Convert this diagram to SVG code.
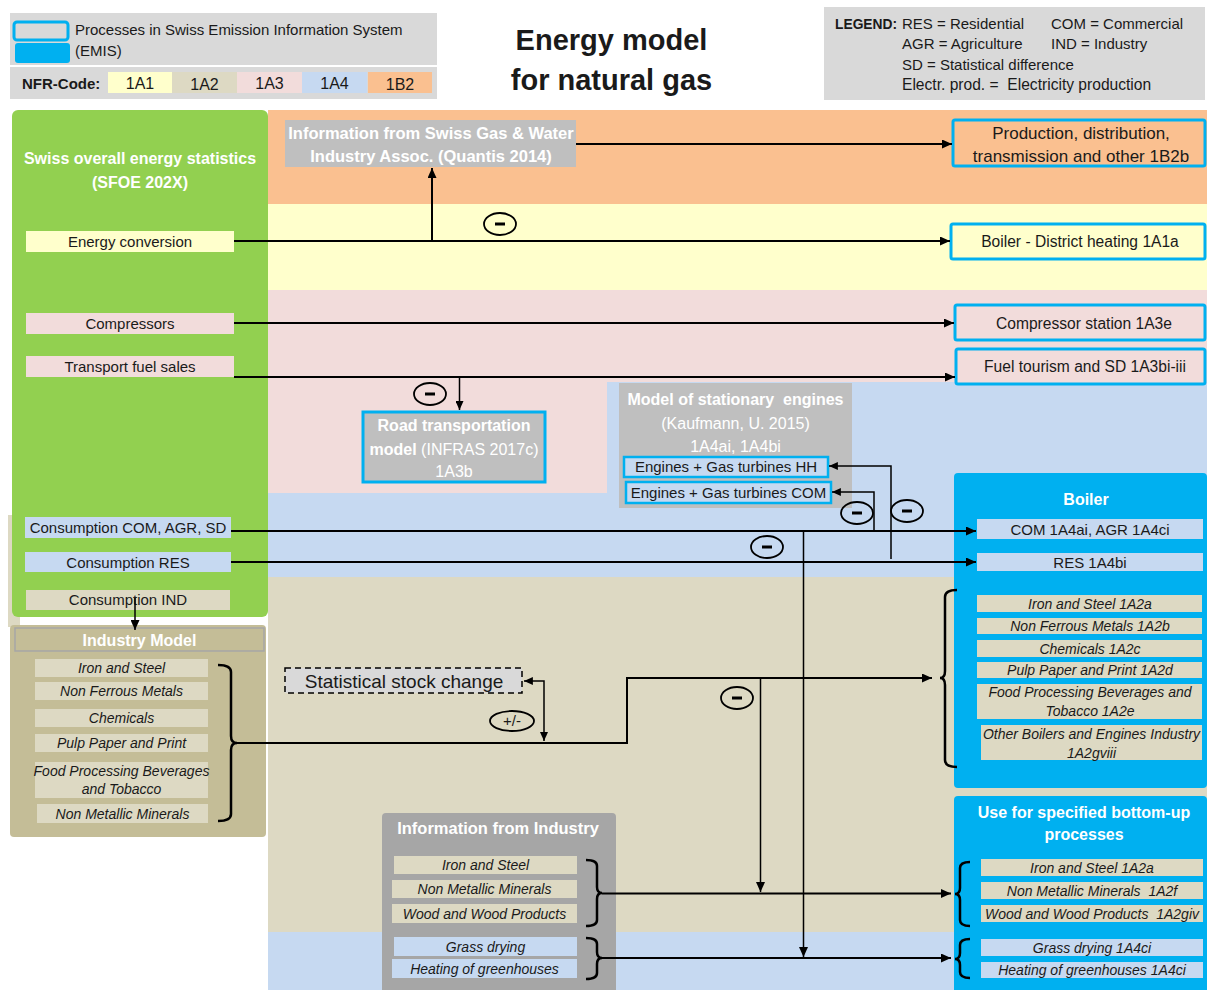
<svg xmlns="http://www.w3.org/2000/svg" width="1207" height="990" viewBox="0 0 1207 990">
<defs>
<style>
.t{font-family:'Liberation Sans',Arial,sans-serif;fill:#1a1a1a;font-size:15px}
.c{text-anchor:middle}
.b{font-weight:bold}
.i{font-style:italic;font-size:14px}
.w{fill:#fff}
.h16{font-size:16px}
.r{font-size:15.6px}
.lg{font-size:15px}
.ln{stroke:#000;stroke-width:2;fill:none}
.thin{stroke-width:1.5}
.br{stroke:#000;stroke-width:2.5;fill:none}
.emis{stroke:#00B0F0;stroke-width:3}
.mc{fill:none;stroke:#000;stroke-width:1.8}
</style>
<marker id="ah" viewBox="0 0 10 9" refX="10" refY="4.5" markerWidth="10" markerHeight="9" markerUnits="userSpaceOnUse" orient="auto-start-reverse">
<path d="M0,0 L10,4.5 L0,9 z" fill="#000"/>
</marker>
<marker id="ahs" viewBox="0 0 10 9" refX="10" refY="4.5" markerWidth="9" markerHeight="8" markerUnits="userSpaceOnUse" orient="auto-start-reverse">
<path d="M0,0 L10,4.5 L0,9 z" fill="#000"/>
</marker>
<g id="minus">
<ellipse cx="0" cy="0" rx="16" ry="11" class="mc"/>
<rect x="-5" y="-1.5" width="10" height="3" fill="#000"/>
</g>
</defs>

<rect width="1207" height="990" fill="#fff"/>

<!-- background NFR bands -->
<g id="bands">
<rect x="268" y="110" width="939" height="94" fill="#FAC090"/>
<rect x="268" y="204" width="939" height="86" fill="#FFFFCC"/>
<rect x="268" y="290" width="939" height="92" fill="#F2DCDB"/>
<rect x="268" y="382" width="339" height="111" fill="#F2DCDB"/>
<rect x="607" y="382" width="600" height="111" fill="#C6D9F1"/>
<rect x="268" y="493" width="939" height="84" fill="#C6D9F1"/>
<rect x="268" y="577" width="939" height="355" fill="#DDD9C3"/>
<rect x="268" y="932" width="939" height="58" fill="#C6D9F1"/>
<rect x="8" y="515" width="12" height="112" fill="#DDD9C3"/>
</g>

<!-- legends and title -->
<g id="legend-emis">
<rect x="10" y="13" width="427" height="52" fill="#D9D9D9"/>
<rect x="14" y="22" width="54" height="18" rx="3" fill="#D9D9D9" class="emis"/>
<rect x="15" y="43" width="55" height="20" rx="3" fill="#00B0F0"/>
<text class="t" x="75" y="35">Processes in Swiss Emission Information System</text>
<text class="t" x="75" y="56">(EMIS)</text>
</g>
<g id="legend-nfr">
<rect x="10" y="67" width="427" height="32" fill="#D9D9D9"/>
<rect x="108" y="72" width="64" height="21" fill="#FFFFCC"/>
<rect x="172" y="72" width="65" height="21" fill="#DDD9C3"/>
<rect x="237" y="72" width="65" height="21" fill="#F2DCDB"/>
<rect x="302" y="72" width="65" height="21" fill="#C6D9F1"/>
<rect x="368" y="72" width="64" height="21" fill="#FAC090"/>
<text class="t b" x="22" y="89">NFR-Code:</text>
<text class="t c h16" x="140" y="89">1A1</text>
<text class="t c h16" x="204.5" y="90">1A2</text>
<text class="t c h16" x="269.5" y="89">1A3</text>
<text class="t c h16" x="334.5" y="89">1A4</text>
<text class="t c h16" x="400" y="90">1B2</text>
</g>
<g id="title">
<text class="t c b" style="font-size:29px" x="611.5" y="50">Energy model</text>
<text class="t c b" style="font-size:29px" x="611.5" y="90">for natural gas</text>
</g>
<g id="legend-abbr">
<rect x="824" y="7" width="381" height="93" fill="#D9D9D9"/>
<text class="t b" style="font-size:13.8px" x="835" y="29">LEGEND:</text>
<text class="t lg" x="902" y="29">RES = Residential</text>
<text class="t lg" x="1051" y="29">COM = Commercial</text>
<text class="t lg" x="902" y="49">AGR = Agriculture</text>
<text class="t lg" x="1051" y="49">IND = Industry</text>
<text class="t lg" x="902" y="70">SD = Statistical difference</text>
<text class="t" style="font-size:15.6px" x="902" y="90">Electr. prod. =&#160; Electricity production</text>
</g>

<!-- Swiss overall energy statistics -->
<g id="sfoe">
<rect x="12" y="110" width="256" height="507" rx="6" fill="#92D050"/>
<text class="t c b w h16" x="140" y="164">Swiss overall energy statistics</text>
<text class="t c b w h16" x="140" y="188">(SFOE 202X)</text>
</g>
<g id="energy-conversion">
<rect x="26" y="231" width="208" height="21" fill="#FFFFCC"/>
<text class="t c" x="130" y="247">Energy conversion</text>
</g>
<g id="compressors">
<rect x="26" y="313" width="208" height="21" fill="#F2DCDB"/>
<text class="t c" x="130" y="329">Compressors</text>
</g>
<g id="transport-fuel">
<rect x="26" y="356" width="208" height="21" fill="#F2DCDB"/>
<text class="t c" x="130" y="372">Transport fuel sales</text>
</g>
<g id="cons-com">
<rect x="25" y="517" width="206" height="21" fill="#C6D9F1"/>
<text class="t c" x="128" y="533">Consumption COM, AGR, SD</text>
</g>
<g id="cons-res">
<rect x="25" y="552" width="206" height="20" fill="#C6D9F1"/>
<text class="t c" x="128" y="567.5">Consumption RES</text>
</g>
<g id="cons-ind">
<rect x="26" y="590" width="204" height="20" fill="#DDD9C3"/>
<text class="t c" x="128" y="605">Consumption IND</text>
</g>

<!-- Industry model -->
<g id="industry-model">
<rect x="10" y="625" width="256" height="212" rx="4" fill="#C4BD97"/>
<rect x="15" y="628" width="249" height="23" fill="#C4BD97" stroke="#A6A6A6" stroke-width="1.5"/>
<text class="t c b w h16" x="139.5" y="645.5">Industry Model</text>
<rect x="35" y="659" width="173" height="18" fill="#DDD9C3"/>
<text class="t c i" x="121.5" y="673">Iron and Steel</text>
<rect x="35" y="682" width="173" height="18" fill="#DDD9C3"/>
<text class="t c i" x="121.5" y="696">Non Ferrous Metals</text>
<rect x="35" y="709" width="173" height="18" fill="#DDD9C3"/>
<text class="t c i" x="121.5" y="723">Chemicals</text>
<rect x="35" y="734" width="173" height="18" fill="#DDD9C3"/>
<text class="t c i" x="121.5" y="748">Pulp Paper and Print</text>
<rect x="35" y="762" width="173" height="36" fill="#DDD9C3"/>
<text class="t c i" x="121.5" y="776">Food Processing Beverages</text>
<text class="t c i" x="121.5" y="794">and Tobacco</text>
<rect x="37" y="804" width="171" height="19" fill="#DDD9C3"/>
<text class="t c i" x="122.5" y="818.5">Non Metallic Minerals</text>
</g>

<!-- Info Swiss Gas -->
<g id="info-gas">
<rect x="285" y="120" width="291" height="47" fill="#BFBFBF"/>
<text class="t c b w" style="font-size:16.5px" x="431" y="138.5">Information from Swiss Gas &amp; Water</text>
<text class="t c b w" style="font-size:16.5px" x="431" y="161.5">Industry Assoc. (Quantis 2014)</text>
</g>
<g id="production">
<rect x="953" y="120" width="252" height="46" rx="2" fill="#FAC090" class="emis"/>
<text class="t c" style="font-size:17px" x="1081" y="139">Production, distribution,</text>
<text class="t c" style="font-size:17px" x="1081" y="162">transmission and other 1B2b</text>
</g>
<g id="district-heating">
<rect x="951" y="224" width="254" height="35" rx="2" fill="#FFFFCC" class="emis"/>
<text class="t c r" x="1080" y="247">Boiler - District heating 1A1a</text>
</g>
<g id="compressor-station">
<rect x="955" y="305" width="250" height="35" rx="2" fill="#F2DCDB" class="emis"/>
<text class="t c r" x="1084" y="328.5">Compressor station 1A3e</text>
</g>
<g id="fuel-tourism">
<rect x="956" y="349" width="249" height="35" rx="2" fill="#F2DCDB" class="emis"/>
<text class="t c r" x="1085" y="371.5">Fuel tourism and SD 1A3bi-iii</text>
</g>

<!-- Road transportation -->
<g id="road-model">
<rect x="363" y="412" width="182" height="70" fill="#BFBFBF" class="emis"/>
<text class="t c b w h16" x="454" y="431">Road transportation</text>
<text class="t c w h16" x="454" y="455"><tspan font-weight="bold">model</tspan> (INFRAS 2017c)</text>
<text class="t c w h16" x="454" y="477">1A3b</text>
</g>

<!-- Stationary engines -->
<g id="stationary-engines">
<rect x="619" y="383" width="233" height="125" fill="#BFBFBF"/>
<text class="t c b w h16" x="735.5" y="405">Model of stationary&#160; engines</text>
<text class="t c w h16" x="735.5" y="429">(Kaufmann, U. 2015)</text>
<text class="t c w h16" x="735.5" y="452">1A4ai, 1A4bi</text>
</g>
<g id="engines-hh">
<rect x="624" y="457" width="204" height="20" fill="#C6D9F1" stroke="#00B0F0" stroke-width="2.5"/>
<text class="t c" x="726" y="472">Engines + Gas turbines HH</text>
</g>
<g id="engines-com">
<rect x="626" y="482" width="205" height="21" fill="#C6D9F1" stroke="#00B0F0" stroke-width="2.5"/>
<text class="t c" x="728.5" y="497.5">Engines + Gas turbines COM</text>
</g>

<!-- Boiler -->
<g id="boiler">
<rect x="954" y="473" width="253" height="315" rx="4" fill="#00B0F0"/>
<text class="t c b w h16" x="1086" y="505">Boiler</text>
<rect x="977" y="519" width="226" height="20" fill="#C6D9F1"/>
<text class="t c" x="1090" y="534.5">COM 1A4ai, AGR 1A4ci</text>
<rect x="977" y="553" width="226" height="18" fill="#C6D9F1"/>
<text class="t c" x="1090" y="567.5">RES 1A4bi</text>
<rect x="977" y="595" width="225" height="17" fill="#DDD9C3"/>
<text class="t c i" x="1090" y="608.5">Iron and Steel 1A2a</text>
<rect x="977" y="618" width="225" height="16" fill="#DDD9C3"/>
<text class="t c i" x="1090" y="631">Non Ferrous Metals 1A2b</text>
<rect x="977" y="640" width="225" height="17" fill="#DDD9C3"/>
<text class="t c i" x="1090" y="653.5">Chemicals 1A2c</text>
<rect x="977" y="662" width="225" height="16" fill="#DDD9C3"/>
<text class="t c i" x="1090" y="675">Pulp Paper and Print 1A2d</text>
<rect x="977" y="684" width="225" height="35" fill="#DDD9C3"/>
<text class="t c i" x="1090" y="697">Food Processing Beverages and</text>
<text class="t c i" x="1090" y="716">Tobacco 1A2e</text>
<rect x="981" y="725" width="221" height="35" fill="#DDD9C3"/>
<text class="t c i" x="1091.5" y="739">Other Boilers and Engines Industry</text>
<text class="t c i" x="1091.5" y="758">1A2gviii</text>
</g>

<!-- Use for specified bottom-up processes -->
<g id="bottom-up">
<rect x="954" y="796" width="253" height="200" rx="4" fill="#00B0F0"/>
<text class="t c b w h16" x="1084" y="818">Use for specified bottom-up</text>
<text class="t c b w h16" x="1084" y="840">processes</text>
<rect x="981" y="859" width="222" height="17" fill="#DDD9C3"/>
<text class="t c i" x="1092" y="872.5">Iron and Steel 1A2a</text>
<rect x="981" y="882" width="222" height="17" fill="#DDD9C3"/>
<text class="t c i" x="1092" y="895.5">Non Metallic Minerals&#160; 1A2f</text>
<rect x="981" y="905" width="222" height="17" fill="#DDD9C3"/>
<text class="t c i" x="1092" y="918.5">Wood and Wood Products&#160; 1A2giv</text>
<rect x="981" y="939" width="222" height="17" fill="#C6D9F1"/>
<text class="t c i" x="1092" y="952.5">Grass drying 1A4ci</text>
<rect x="981" y="962" width="222" height="16" fill="#C6D9F1"/>
<text class="t c i" x="1092" y="975">Heating of greenhouses 1A4ci</text>
</g>

<!-- Statistical stock change -->
<g id="stock-change">
<rect x="285" y="668" width="237" height="25" fill="#D9D9D9" stroke="#000" stroke-width="1.5" stroke-dasharray="6,4"/>
<text class="t c" style="font-size:19px" x="404" y="687.5">Statistical stock change</text>
</g>

<!-- Information from Industry -->
<g id="info-industry">
<rect x="382" y="813" width="234" height="180" rx="4" fill="#A6A6A6"/>
<text class="t c b w" style="font-size:16.5px" x="498" y="834">Information from Industry</text>
<rect x="394" y="856" width="183" height="18" fill="#DDD9C3"/>
<text class="t c i" x="485.5" y="870">Iron and Steel</text>
<rect x="392" y="880" width="185" height="18" fill="#DDD9C3"/>
<text class="t c i" x="484.5" y="894">Non Metallic Minerals</text>
<rect x="392" y="904" width="185" height="19" fill="#DDD9C3"/>
<text class="t c i" x="484.5" y="918.5">Wood and Wood Products</text>
<rect x="394" y="937" width="183" height="19" fill="#C6D9F1"/>
<text class="t c i" x="485.5" y="951.5">Grass drying</text>
<rect x="392" y="959" width="185" height="19" fill="#C6D9F1"/>
<text class="t c i" x="484.5" y="973.5">Heating of greenhouses</text>
</g>

<!-- connectors -->
<g id="connectors">
<path class="ln" d="M234,241 H950" marker-end="url(#ah)"/>
<path class="ln" d="M432,241 V168" marker-end="url(#ah)"/>
<path class="ln" d="M576,144 H952" marker-end="url(#ah)"/>
<path class="ln" d="M234,323 H954" marker-end="url(#ah)"/>
<path class="ln" d="M234,377 H955" marker-end="url(#ah)"/>
<path class="ln thin" d="M459.5,377 V410" marker-end="url(#ahs)"/>
<path class="ln" d="M231,531 H976" marker-end="url(#ah)"/>
<path class="ln" d="M231,562 H976" marker-end="url(#ah)"/>
<path class="ln thin" d="M891,559 V466 H829" marker-end="url(#ahs)"/>
<path class="ln thin" d="M874,531 V492 H832" marker-end="url(#ahs)"/>
<path class="ln thin" d="M803.5,531 V957" marker-end="url(#ah)"/>
<path class="ln thin" d="M135,598 V630" marker-end="url(#ah)"/>
<path class="ln" d="M237,743 H627 V678 H932" marker-end="url(#ah)"/>
<path class="ln thin" d="M524,681 H544 V741" marker-start="url(#ahs)" marker-end="url(#ahs)"/>
<path class="ln thin" d="M760.5,678 V892" marker-end="url(#ah)"/>
<path class="ln" d="M602,893.5 H951" marker-end="url(#ah)"/>
<path class="ln" d="M602,958 H951" marker-end="url(#ah)"/>
<!-- brackets -->
<path class="br" d="M218,665 Q231,665 231,672 V736 Q231,743 237,743 Q231,743 231,750 V814 Q231,821 218,821"/>
<path class="br" d="M586,860 Q597,860 597,866 V887 Q597,893 602,893 Q597,893 597,899 V920 Q597,926 586,926"/>
<path class="br" d="M586,938 Q597,938 597,944 V952 Q597,958 602,958 Q597,958 597,964 V973 Q597,979 586,979"/>
<path class="br" d="M957,590 Q945,590 945,597 V671 Q945,678 940,678 Q945,678 945,685 V760 Q945,767 957,767"/>
<path class="br" d="M970,862 Q960,862 960,868 V888 Q960,894 955,894 Q960,894 960,900 V920 Q960,926 970,926"/>
<path class="br" d="M970,939 Q960,939 960,945 V953 Q960,959 955,959 Q960,959 960,965 V972 Q960,978 970,978"/>
<!-- operator signs -->
<use href="#minus" x="500" y="224"/>
<use href="#minus" x="430" y="394"/>
<use href="#minus" x="857" y="513"/>
<use href="#minus" x="907" y="511"/>
<use href="#minus" x="767" y="547"/>
<use href="#minus" x="737" y="698"/>
<ellipse cx="512" cy="721" rx="22" ry="10" class="mc"/>
<text class="t c" style="font-size:15px" x="512" y="726">+/-</text>
</g>
</svg>
